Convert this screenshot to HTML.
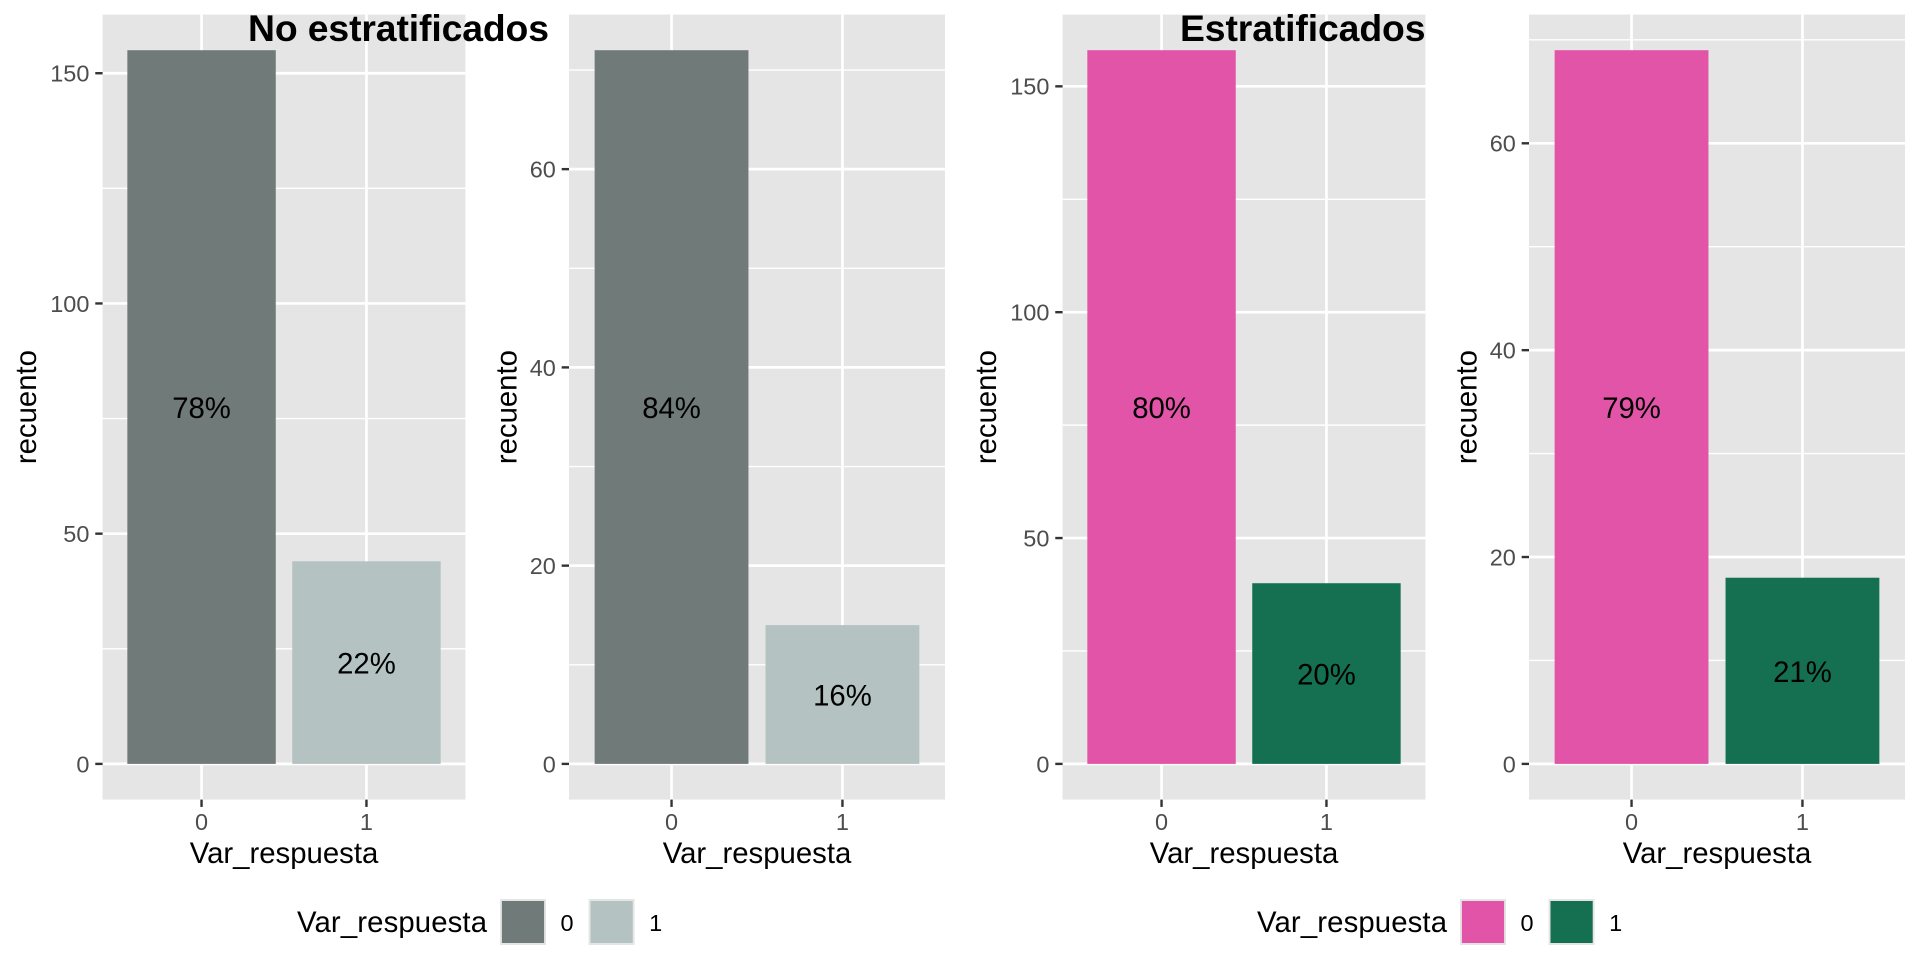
<!DOCTYPE html>
<html lang="es">
<head>
<meta charset="utf-8">
<title>Var_respuesta: no estratificados y estratificados</title>
<style>
  html, body { margin: 0; padding: 0; background: #ffffff; }
  svg { display: block; font-family: "Liberation Sans", Arial, sans-serif; }
</style>
</head>
<body>
<svg id="chart" xmlns="http://www.w3.org/2000/svg" width="1920" height="960" viewBox="0 0 1920 960"></svg>
<script>
const categories = ['0', '1'];

const countsNoEstrat1 = [155, 44];
const countsNoEstrat2 = [72, 14];
const countsEstrat1 = [158, 40];
const countsEstrat2 = [69, 18];

const labelsNoEstrat1 = ['78%', '22%'];
const labelsNoEstrat2 = ['84%', '16%'];
const labelsEstrat1 = ['80%', '20%'];
const labelsEstrat2 = ['79%', '21%'];

const majorTicksLarge = [0, 50, 100, 150];
const minorTicksLarge = [25, 75, 125];
const majorTicksSmall = [0, 20, 40, 60];
const minorTicksSmall = [10, 30, 50, 70];

const xAxisTitle = 'Var_respuesta';
const yAxisTitle = 'recuento';
const legendTitle = 'Var_respuesta';
const titleLeft = 'No estratificados';
const titleRight = 'Estratificados';

const greyColors = ['#707A78', '#B4C2C2'];
const vividColors = ['#E254A8', '#157052'];

const NS = 'http://www.w3.org/2000/svg';
const svg = document.getElementById('chart');

const PANEL_TOP = 14.6;
const PANEL_BOTTOM = 799.6;
const ZERO_Y = 763.9;
const BAR_TOP_Y = 50.2;

function make(tag, attrs, parent) {
  const el = document.createElementNS(NS, tag);
  for (const k in attrs) el.setAttribute(k, attrs[k]);
  parent.appendChild(el);
  return el;
}

function yScale(value, maxValue) {
  return ZERO_Y - (value / maxValue) * (ZERO_Y - BAR_TOP_Y);
}

function xScale(index, left, right) {
  const unit = (right - left) / 2.2;
  return left + unit * (0.6 + index);
}

function drawPanel(name, left, right, yTitleX, counts, labels, majors, minors, colors) {
  const group = make('g', {}, svg);
  
  

  const maxValue = Math.max(...counts);
  const unit = (right - left) / 2.2;

  const bg = make('rect', { x: left, y: PANEL_TOP, width: right - left, height: PANEL_BOTTOM - PANEL_TOP, fill: '#E5E5E5' }, group);
  
  

  minors.forEach(function (v) {
    const y = yScale(v, maxValue);
    if (y < PANEL_TOP || y > PANEL_BOTTOM) return;
    const line = make('line', { x1: left, x2: right, y1: y, y2: y, stroke: '#FFFFFF', 'stroke-width': 1.4 }, group);
    
    
  });

  majors.forEach(function (v) {
    const y = yScale(v, maxValue);
    if (y < PANEL_TOP || y > PANEL_BOTTOM) return;
    const line = make('line', { x1: left, x2: right, y1: y, y2: y, stroke: '#FFFFFF', 'stroke-width': 2.7 }, group);
    
    

    const tick = make('line', { x1: left - 7.33, x2: left, y1: y, y2: y, stroke: '#333333', 'stroke-width': 2.4 }, group);
    
    

    const label = make('text', { x: left - 13.2, y: y + 8.4, 'text-anchor': 'end', 'font-size': 23.47, fill: '#4D4D4D' }, group);
    
    
    label.textContent = String(v);
  });

  categories.forEach(function (cat, i) {
    const cx = xScale(i, left, right);
    const line = make('line', { x1: cx, x2: cx, y1: PANEL_TOP, y2: PANEL_BOTTOM, stroke: '#FFFFFF', 'stroke-width': 2.7 }, group);
    
    

    const tick = make('line', { x1: cx, x2: cx, y1: PANEL_BOTTOM, y2: PANEL_BOTTOM + 7.33, stroke: '#333333', 'stroke-width': 2.4 }, group);
    
    

    const label = make('text', { x: cx, y: 830, 'text-anchor': 'middle', 'font-size': 23.47, fill: '#4D4D4D' }, group);
    
    
    label.textContent = cat;
  });

  counts.forEach(function (value, i) {
    const cx = xScale(i, left, right);
    const yTop = yScale(value, maxValue);
    const bar = make('rect', { x: cx - unit * 0.45, y: yTop, width: unit * 0.9, height: ZERO_Y - yTop, fill: colors[i] }, group);
    
    
  });

  counts.forEach(function (value, i) {
    const cx = xScale(i, left, right);
    const yMid = yScale(value / 2, maxValue);
    const text = make('text', { x: cx, y: yMid + 11, 'text-anchor': 'middle', 'font-size': 29.33, fill: '#000000' }, group);
    
    
    text.textContent = labels[i];
  });

  const xTitle = make('text', { x: (left + right) / 2, y: 863, 'text-anchor': 'middle', 'font-size': 29.33, fill: '#000000' }, group);
  
  
  xTitle.textContent = xAxisTitle;

  const yMidTitle = (PANEL_TOP + PANEL_BOTTOM) / 2;
  const yTitle = make('text', { x: yTitleX, y: yMidTitle, 'text-anchor': 'middle', 'font-size': 29.33, fill: '#000000', transform: 'rotate(-90 ' + yTitleX + ' ' + yMidTitle + ')' }, group);
  
  
  yTitle.textContent = yAxisTitle;
}

function drawLegend(name, offset, colors) {
  const group = make('g', {}, svg);
  
  

  const title = make('text', { x: offset + 297, y: 932, 'font-size': 29.33, fill: '#000000', textLength: 190, lengthAdjust: 'spacing' }, group);
  
  
  title.textContent = legendTitle;

  categories.forEach(function (cat, i) {
    const keyX = offset + 500 + i * 88.6;
    const key = make('rect', { x: keyX, y: 899, width: 46, height: 46, fill: '#E5E5E5' }, group);
    
    

    const swatch = make('rect', { x: keyX + 1.9, y: 901, width: 42.2, height: 42, fill: colors[i] }, group);
    
    

    const text = make('text', { x: keyX + 60.5, y: 931, 'font-size': 23.47, fill: '#000000' }, group);
    
    
    text.textContent = cat;
  });
}

drawPanel('panel-no-estratificados-a', 102.6, 465.4, 36, countsNoEstrat1, labelsNoEstrat1, majorTicksLarge, minorTicksLarge, greyColors);
drawPanel('panel-no-estratificados-b', 569, 945, 516.5, countsNoEstrat2, labelsNoEstrat2, majorTicksSmall, minorTicksSmall, greyColors);
drawPanel('panel-estratificados-a', 1062.6, 1425.4, 996, countsEstrat1, labelsEstrat1, majorTicksLarge, minorTicksLarge, vividColors);
drawPanel('panel-estratificados-b', 1529, 1905, 1476.5, countsEstrat2, labelsEstrat2, majorTicksSmall, minorTicksSmall, vividColors);

drawLegend('legend-no-estratificados', 0, greyColors);
drawLegend('legend-estratificados', 960, vividColors);

const t1 = make('text', { x: 248, y: 41, 'font-size': 37.33, 'font-weight': 'bold', fill: '#000000', textLength: 301, lengthAdjust: 'spacing' }, svg);


t1.textContent = titleLeft;

const t2 = make('text', { x: 1180, y: 41, 'font-size': 37.33, 'font-weight': 'bold', fill: '#000000', textLength: 245.5, lengthAdjust: 'spacing' }, svg);


t2.textContent = titleRight;
</script>
</body>
</html>
